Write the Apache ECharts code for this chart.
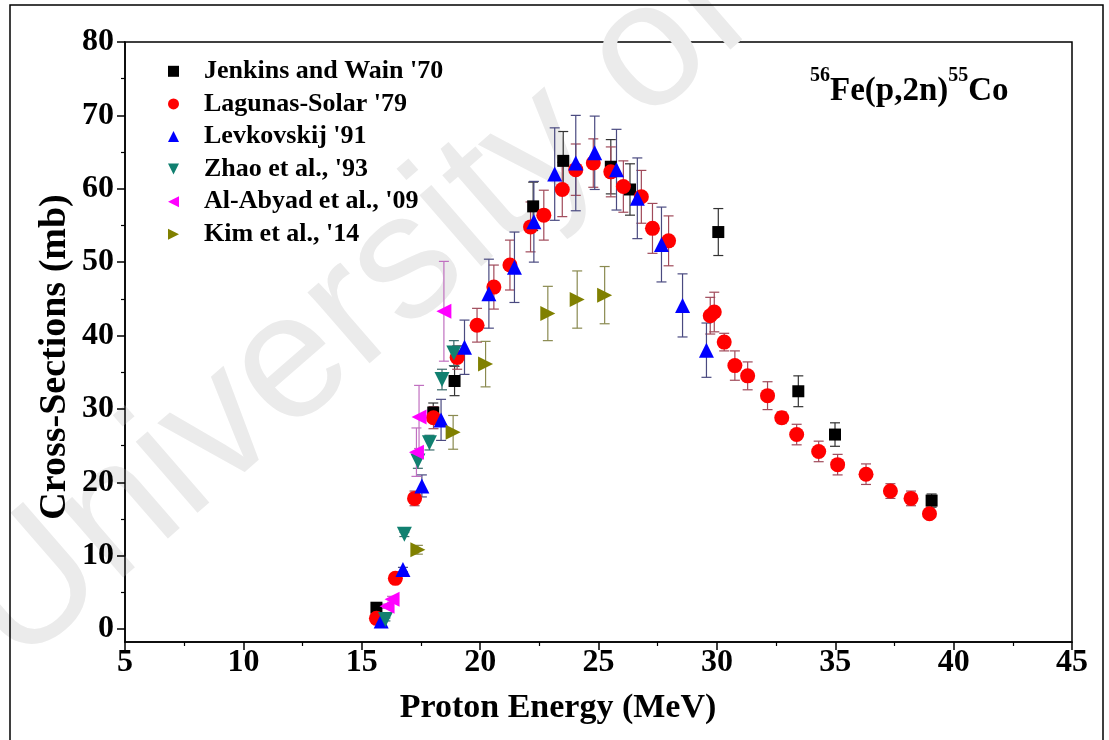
<!DOCTYPE html>
<html>
<head>
<meta charset="utf-8">
<script src="https://cdn.jsdelivr.net/npm/echarts@6/dist/echarts.min.js"></script>
<style>
html,body{margin:0;padding:0;background:#fff;}
#c{width:1109px;height:740px;}
</style>
</head>
<body>
<div id="c"></div>
<script>
// ---- data ----
const xTicks = [5, 10, 15, 20, 25, 30, 35, 40, 45];
const yTicks = [0, 10, 20, 30, 40, 50, 60, 70, 80];

const seriesNames = ["Jenkins and Wain '70", "Lagunas-Solar '79", "Levkovskij '91", "Zhao et al., '93", "Al-Abyad et al., '09", "Kim et al., '14"];

const jenkinsE   = [15.62, 18.02, 18.92, 22.24, 23.51, 25.52, 26.33, 30.06, 33.44, 34.99, 39.07];
const jenkinsXS  = [2.9, 29.5, 33.8, 57.6, 63.8, 63.0, 59.9, 54.1, 32.4, 26.5, 17.5];
const jenkinsErr = [0.3, 1.3, 2.0, 3.3, 4.0, 3.7, 3.5, 3.2, 2.1, 1.6, 0.9];

const lagunasE   = [15.62, 16.42, 17.23, 18.03, 19.03, 19.87, 20.58, 21.26, 22.13, 22.69, 23.47, 24.04, 24.78, 25.52, 26.05, 26.81, 27.28, 27.96, 29.72, 29.89, 30.31, 30.76, 31.30, 32.14, 32.74, 33.37, 34.30, 35.10, 36.30, 37.33, 38.20, 38.98];
const lagunasXS  = [1.45, 6.9, 17.8, 28.8, 37.0, 41.4, 46.6, 49.6, 54.8, 56.4, 59.9, 62.6, 63.5, 62.3, 60.3, 58.9, 54.6, 52.9, 42.7, 43.2, 39.1, 35.9, 34.5, 31.8, 28.8, 26.5, 24.2, 22.4, 21.1, 18.8, 17.8, 15.7];
const lagunasErr = [0.3, 0.4, 1.0, 1.5, 1.6, 2.3, 3.0, 3.4, 3.4, 3.4, 3.7, 3.5, 3.3, 3.4, 3.5, 3.6, 3.4, 3.4, 2.5, 2.7, 1.2, 2.0, 1.9, 1.9, 0.8, 1.4, 1.4, 1.4, 1.4, 1.0, 1.0, 0.6];

const levkE   = [15.82, 16.74, 17.54, 18.35, 19.34, 20.37, 21.45, 22.27, 23.15, 24.04, 24.84, 25.76, 26.64, 27.66, 28.55, 29.56];
const levkXS  = [1.1, 8.1, 19.5, 28.5, 38.4, 45.7, 49.3, 55.5, 62.0, 63.5, 64.9, 62.6, 58.7, 52.4, 44.1, 38.0];
const levkErr = [0.2, 0.3, 1.5, 2.8, 3.7, 4.7, 4.8, 5.5, 6.3, 6.5, 5.0, 5.5, 5.5, 5.1, 4.3, 3.7];

const zhaoE   = [16.00, 16.80, 17.37, 17.86, 18.39, 18.89];
const zhaoXS  = [1.3, 12.9, 22.9, 25.4, 34.0, 37.6];
const zhaoErr = [0.2, 0.3, 1.0, 1.0, 1.4, 1.7];

const abyadE   = [16.07, 16.28, 17.31, 17.42, 18.47];
const abyadXS  = [3.1, 4.05, 24.1, 28.9, 43.3];
const abyadErr = [0.3, 0.4, 3.3, 4.3, 6.8];

const kimE   = [17.37, 18.86, 20.23, 22.86, 24.10, 25.26];
const kimXS  = [10.8, 26.8, 36.1, 43.0, 44.9, 45.5];
const kimErr = [0.6, 2.3, 3.1, 3.7, 3.9, 3.9];

// ---- styles ----
const FONT = "'Liberation Serif', 'Times New Roman', serif";
const sets = [
  {name: seriesNames[0], e: jenkinsE, v: jenkinsXS, err: jenkinsErr, color: '#000000', bar: '#333333', symbol: 'rect', rot: 0, size: 12, icon: 'rect'},
  {name: seriesNames[1], e: lagunasE, v: lagunasXS, err: lagunasErr, color: '#ff0000', bar: '#a04a5a', symbol: 'circle', rot: 0, size: 15, icon: 'circle'},
  {name: seriesNames[2], e: levkE, v: levkXS, err: levkErr, color: '#0000ff', bar: '#4a4a80', symbol: 'triangle', rot: 0, size: 15, icon: 'path://M5,0 L10,10 L0,10 Z'},
  {name: seriesNames[3], e: zhaoE, v: zhaoXS, err: zhaoErr, color: '#118070', bar: '#3a6a6a', symbol: 'triangle', rot: 180, size: 15, icon: 'path://M0,0 L10,0 L5,10 Z'},
  {name: seriesNames[4], e: abyadE, v: abyadXS, err: abyadErr, color: '#ff00ff', bar: '#c070c0', symbol: 'triangle', rot: 90, size: 15, icon: 'path://M10,0 L10,10 L0,5 Z'},
  {name: seriesNames[5], e: kimE, v: kimXS, err: kimErr, color: '#808000', bar: '#8a8a50', symbol: 'triangle', rot: -90, size: 15, icon: 'path://M0,0 L10,5 L0,10 Z'}
];

function errorBarSeries(s) {
  return {
    type: 'custom',
    xAxisIndex: 1, yAxisIndex: 1,
    silent: true,
    z: 1,
    data: s.e.map((x, i) => [x, s.v[i], s.err[i]]),
    encode: {x: 0, y: 1},
    renderItem: function (params, api) {
      const x = api.value(0), y = api.value(1), e = api.value(2);
      const lo = api.coord([x, y - e]);
      const hi = api.coord([x, y + e]);
      const cw = 5;
      const st = {stroke: s.bar, lineWidth: 1.2};
      return {
        type: 'group',
        children: [
          {type: 'line', shape: {x1: lo[0], y1: lo[1], x2: hi[0], y2: hi[1]}, style: st},
          {type: 'line', shape: {x1: lo[0] - cw, y1: lo[1], x2: lo[0] + cw, y2: lo[1]}, style: st},
          {type: 'line', shape: {x1: hi[0] - cw, y1: hi[1], x2: hi[0] + cw, y2: hi[1]}, style: st}
        ]
      };
    }
  };
}

function scatterSeries(s) {
  return {
    type: 'scatter',
    name: s.name,
    xAxisIndex: 1, yAxisIndex: 1,
    z: 3,
    symbol: s.symbol,
    symbolRotate: s.rot,
    symbolSize: s.size,
    itemStyle: {color: s.color, opacity: 1},
    data: s.e.map((x, i) => [x, s.v[i]])
  };
}

const series = [];
sets.forEach(s => series.push(errorBarSeries(s)));
sets.forEach(s => series.push(scatterSeries(s)));

const chart = echarts.init(document.getElementById('c'), null, {renderer: 'canvas'});
const option = {
  backgroundColor: '#ffffff',
  animation: false,
  graphic: [
    {
      type: 'text', z: 0, silent: true,
      x: 43, y: 700, rotation: 41 * Math.PI / 180,
      style: {text: 'University of Cape Town', fontSize: 178, fontFamily: "'Liberation Sans', Arial, sans-serif", fill: '#ebebeb', textAlign: 'left', textVerticalAlign: 'bottom'}
    },
    {
      type: 'rect', z: 100, silent: true,
      shape: {x: 10, y: 5, width: 1093, height: 760},
      style: {fill: 'none', stroke: '#000', lineWidth: 1.5}
    },
    {
      type: 'text', z: 100, silent: true,
      left: 810, top: 66,
      style: {
        text: '{sup|56}{main|Fe(p,2n)}{sup|55}{main|Co}',
        rich: {
          sup: {fontSize: 20, fontWeight: 'bold', fontFamily: FONT, fill: '#000', verticalAlign: 'top', lineHeight: 20},
          main: {fontSize: 33, fontWeight: 'bold', fontFamily: FONT, fill: '#000', verticalAlign: 'bottom', lineHeight: 42}
        }
      }
    },
    {
      type: 'text', z: 100, silent: true,
      x: 55, y: 357, rotation: Math.PI / 2,
      style: {text: 'Cross-Sections (mb)', fontSize: 38, fontWeight: 'bold', fontFamily: FONT, fill: '#000', textAlign: 'center', textVerticalAlign: 'middle'}
    },
    {
      type: 'text', z: 100, silent: true,
      x: 558, y: 708,
      style: {text: 'Proton Energy (MeV)', fontSize: 34, fontWeight: 'bold', fontFamily: FONT, fill: '#000', textAlign: 'center', textVerticalAlign: 'middle'}
    }
  ],
  legend: {
    data: sets.map(s => ({name: s.name, icon: s.icon, symbolRotate: 0})),
    orient: 'vertical',
    left: 163, top: 50,
    itemWidth: 11, itemHeight: 11,
    itemGap: 0,
    textStyle: {fontSize: 26, fontWeight: 'bold', fontFamily: FONT, color: '#000', lineHeight: 32.6, padding: [0, 0, 0, 20]}
  },
  grid: [
    {left: 125, right: 37, top: 42, bottom: 98, show: true, borderColor: '#000', borderWidth: 1.5, backgroundColor: 'transparent'},
    {left: 125, right: 37, top: 42, bottom: 111, show: false}
  ],
  xAxis: [
    {
      gridIndex: 0, type: 'value', min: xTicks[0], max: xTicks[xTicks.length - 1], interval: 5,
      axisLine: {onZero: false, lineStyle: {color: '#000', width: 1.5}},
      axisTick: {inside: false, length: 8, lineStyle: {color: '#000', width: 1.5}},
      minorTick: {show: true, splitNumber: 2, length: 4, lineStyle: {color: '#000', width: 1.2}},
      splitLine: {show: false},
      axisLabel: {fontSize: 32, fontWeight: 'bold', fontFamily: FONT, color: '#000', margin: 5}
    },
    {gridIndex: 1, type: 'value', min: xTicks[0], max: xTicks[xTicks.length - 1], show: false}
  ],
  yAxis: [
    {
      gridIndex: 0, type: 'value', min: -1.77, max: 80,
      axisLine: {show: true, lineStyle: {color: '#000', width: 1.5}},
      axisTick: {show: false}, axisLabel: {show: false}, splitLine: {show: false}
    },
    {
      gridIndex: 1, type: 'value', min: yTicks[0], max: yTicks[yTicks.length - 1], interval: 10,
      axisLine: {show: false},
      axisTick: {show: true, inside: false, length: 8, lineStyle: {color: '#000', width: 1.5}},
      minorTick: {show: true, splitNumber: 2, length: 4, lineStyle: {color: '#000', width: 1.2}},
      splitLine: {show: false},
      axisLabel: {fontSize: 32, fontWeight: 'bold', fontFamily: FONT, color: '#000', margin: 11}
    }
  ],
  series: series
};
chart.setOption(option);
</script>
</body>
</html>
